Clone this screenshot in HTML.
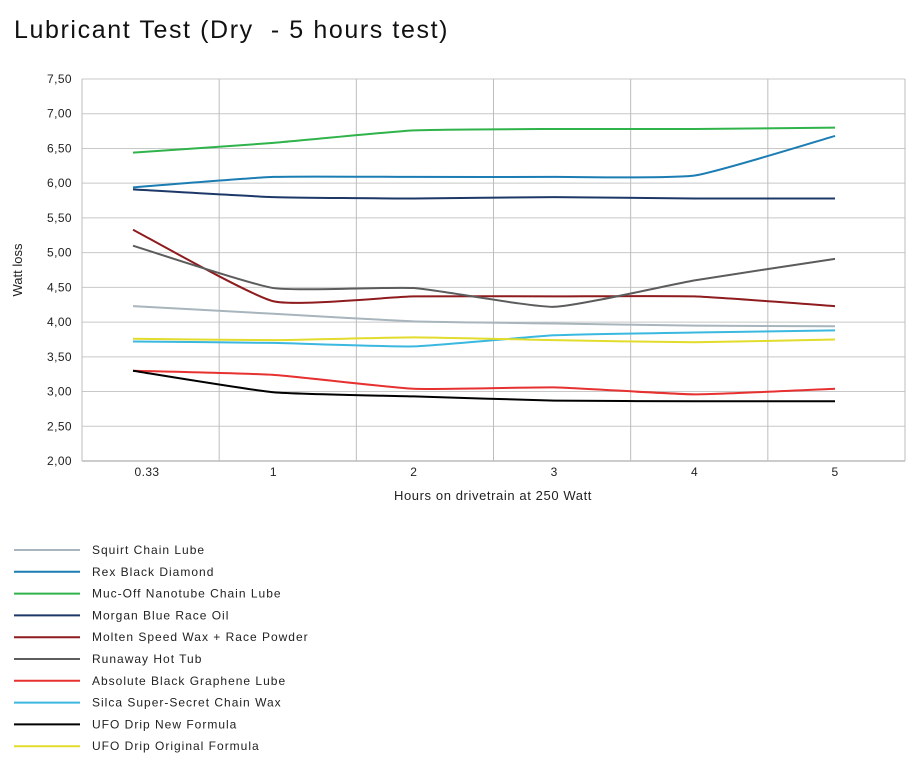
<!DOCTYPE html>
<html><head><meta charset="utf-8"><style>
body{margin:0;background:#fff;font-family:"Liberation Sans",sans-serif;}
svg text{font-family:"Liberation Sans",sans-serif;}
</style></head><body>
<svg id="chart" width="917" height="759">
<text x="14" y="38" font-size="25" letter-spacing="1.6" fill="#111" style="white-space:pre">Lubricant Test (Dry  - 5 hours test)</text>
<g id="grid"></g><g id="series"></g><g id="axes"></g><g id="legend"></g>
<text x="493" y="500" font-size="13" letter-spacing="0.6" text-anchor="middle" fill="#222">Hours on drivetrain at 250 Watt</text>
<text x="22" y="270" font-size="13" text-anchor="middle" fill="#222" transform="rotate(-90 22 270)">Watt loss</text>
</svg>
<script>
const categories = ["0.33","1","2","3","4","5"];
const yTicks = [2.0,2.5,3.0,3.5,4.0,4.5,5.0,5.5,6.0,6.5,7.0,7.5];
const seriesNames = ["Squirt Chain Lube","Rex Black Diamond","Muc-Off Nanotube Chain Lube","Morgan Blue Race Oil","Molten Speed Wax + Race Powder","Runaway Hot Tub","Absolute Black Graphene Lube","Silca Super-Secret Chain Wax","UFO Drip New Formula","UFO Drip Original Formula"];
const seriesColors = ["#a8b5bd","#1b7db3","#2fb34a","#1d3868","#8e1b1e","#5c5c5c","#e63130","#3bb8df","#000000","#e2dc2c"];
const squirt = [4.23,4.12,4.01,3.98,3.95,3.94];
const rex = [5.94,6.09,6.09,6.09,6.11,6.68];
const mucoff = [6.44,6.58,6.76,6.78,6.78,6.80];
const morgan = [5.91,5.80,5.78,5.80,5.78,5.78];
const molten = [5.33,4.30,4.37,4.37,4.37,4.23];
const runaway = [5.10,4.49,4.49,4.22,4.60,4.91];
const absolute = [3.30,3.24,3.04,3.06,2.96,3.04];
const silca = [3.72,3.70,3.65,3.81,3.85,3.88];
const ufoNew = [3.30,2.99,2.93,2.87,2.86,2.86];
const ufoOrig = [3.76,3.74,3.78,3.74,3.71,3.75];
const seriesValues = [squirt,rex,mucoff,morgan,molten,runaway,absolute,silca,ufoNew,ufoOrig];

const NS="http://www.w3.org/2000/svg";
const L=82,R=905,T=79,B=461;
function yScale(v){return B-(v-2)/(7.5-2)*(B-T);}
function xScale(i){return 133+i*140.4;}
function mk(tag,attrs,parent){const e=document.createElementNS(NS,tag);for(const k in attrs)e.setAttribute(k,attrs[k]);parent.appendChild(e);return e;}
const grid=document.getElementById('grid'),axes=document.getElementById('axes'),ser=document.getElementById('series'),leg=document.getElementById('legend');
yTicks.forEach(t=>{
  const y=yScale(t);
  const ln=mk('line',{x1:L,x2:R,y1:y,y2:y,stroke:t===2?'#999':'#c8c8c8','stroke-width':1},grid);
  
  
  const tx=mk('text',{x:72,y:y+4,'font-size':12,'letter-spacing':0.4,'text-anchor':'end',fill:'#222'},axes);
  tx.textContent=t.toFixed(2).replace('.',',');
  
  
});
const bw=(R-L)/6;
for(let i=0;i<=6;i++){
  const x=L+i*bw;
  const ln=mk('line',{x1:x,x2:x,y1:T,y2:B,stroke:'#bdbdbd','stroke-width':1},grid);
  
  
}
categories.forEach((c,i)=>{
  const tx=mk('text',{x:xScale(i)+(i===0?14:0),y:476,'font-size':12,'letter-spacing':0.4,'text-anchor':'middle',fill:'#222'},axes);
  tx.textContent=c;
  
  
});
function pathFor(vals){
  const p=vals.map((v,i)=>[xScale(i),yScale(v)]);
  let d=`M${p[0][0]},${p[0][1]}`;
  for(let i=0;i<p.length-1;i++){
    const p0=p[i-1]||p[i],p1=p[i],p2=p[i+1],p3=p[i+2]||p[i+1];
    const t=0.08;
    d+=` C${p1[0]+(p2[0]-p0[0])*t},${p1[1]+(p2[1]-p0[1])*t} ${p2[0]-(p3[0]-p1[0])*t},${p2[1]-(p3[1]-p1[1])*t} ${p2[0]},${p2[1]}`;
  }
  return d;
}
seriesValues.forEach((vals,k)=>{
  const pa=mk('path',{d:pathFor(vals),fill:'none',stroke:seriesColors[k],'stroke-width':2},ser);
  
  
  const y=550+k*21.8;
  const g=mk('g',{},leg);
  
  
  mk('line',{x1:14,x2:80,y1:y,y2:y,stroke:seriesColors[k],'stroke-width':2},g);
  const tx=mk('text',{x:92,y:y+4,'font-size':12,'letter-spacing':1,fill:'#222'},g);
  tx.textContent=seriesNames[k];
});
</script>
</body></html>
